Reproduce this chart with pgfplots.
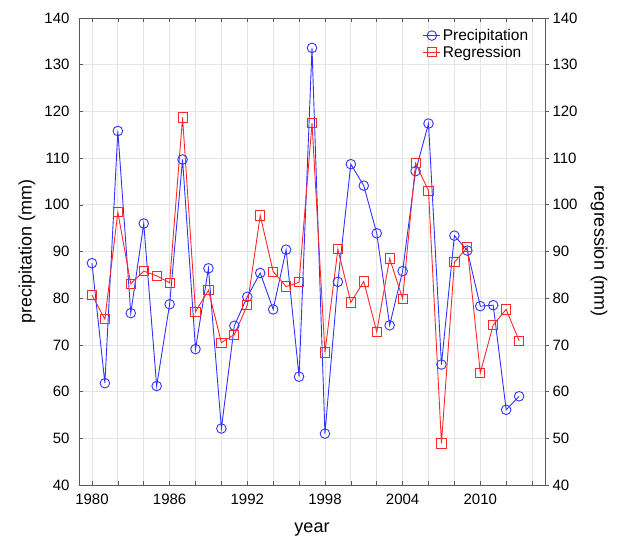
\documentclass[border=0pt]{standalone}
\usepackage{pgfplots}
\pgfplotsset{compat=1.18}
\usepackage{fontspec}
\setmainfont{Liberation Sans}
\pgfplotstableread{
year prec reg
1980 87.5 80.7
1981 61.8 75.5
1982 115.8 98.4
1983 76.8 83.1
1984 96.0 85.8
1985 61.2 84.8
1986 78.7 83.3
1987 109.7 118.7
1988 69.1 77.1
1989 86.4 81.7
1990 52.1 70.5
1991 74.1 72.2
1992 80.3 78.5
1993 85.4 97.7
1994 77.6 85.7
1995 90.4 82.5
1996 63.2 83.4
1997 133.6 117.5
1998 51.0 68.4
1999 83.5 90.5
2000 108.7 79.1
2001 104.1 83.6
2002 93.9 72.8
2003 74.2 88.5
2004 85.8 79.9
2005 107.2 108.9
2006 117.4 103.0
2007 65.8 48.9
2008 93.4 87.7
2009 90.2 90.9
2010 78.3 64.0
2011 78.5 74.3
2012 56.1 77.6
2013 59.0 70.9
}\datatable
\definecolor{pblue}{RGB}{50,50,255}
\definecolor{pred}{RGB}{255,40,40}
\begin{document}
\begin{tikzpicture}
\begin{axis}[
  scale only axis, width=466pt, height=467pt,
  xmin=1979, xmax=2015, ymin=40, ymax=140,
  xtick={1980,1986,...,2010},
  minor xtick={1982,1984,1988,1990,1994,1996,2000,2002,2006,2008,2012,2014},
  ytick={40,50,...,140},
  x tick label style={/pgf/number format/1000 sep={}, yshift=-5pt},
  y tick label style={xshift=-6pt},
  /pgf/number format/assume math mode=true,
  ticklabel style={font=\fontsize{15}{18}\selectfont},
  grid=both,
  major grid style={gray!20, line width=0.8pt},
  minor grid style={gray!20, line width=0.8pt},
  axis line style={gray!70!black, line width=0.8pt},
  tick style={gray!70!black, line width=0.6pt},
  major tick length=4pt, minor tick length=4pt,
  tick align=inside,
  axis y line*=left,
  axis x line*=box,
  xlabel={year}, ylabel={precipitation (mm)},
  label style={font=\fontsize{18}{21}\selectfont},
  ylabel style={at={(rel axis cs:0,0.5)}, anchor=south, yshift=40pt},
  xlabel style={at={(rel axis cs:0.5,0)}, anchor=north, yshift=-34pt},
  legend style={at={(0.975,0.985)}, anchor=north east, draw=none, fill=none,
    font=\fontsize{15.5}{18}\selectfont},
  legend cell align=left,
]
\addplot[pblue, line width=0.9pt, mark=o, mark size=4.8pt, mark options={line width=0.9pt}] table[x=year,y=prec]{\datatable};
\addlegendentry{Precipitation}
\addplot[pred, line width=0.9pt, mark=square, mark size=4.6pt, mark options={line width=0.9pt}] table[x=year,y=reg]{\datatable};
\addlegendentry{Regression}
\coordinate (bl) at (rel axis cs:0,0);
\coordinate (tr) at (rel axis cs:1,1);
\end{axis}
\begin{axis}[
  scale only axis, width=466pt, height=467pt,
  xmin=1979, xmax=2015, ymin=40, ymax=140,
  axis x line=none,
  axis y line*=right,
  ytick={40,50,...,140},
  /pgf/number format/assume math mode=true,
  ticklabel style={font=\fontsize{15}{18}\selectfont},
  axis line style={gray!70!black, line width=0.8pt},
  tick style={gray!70!black, line width=0.6pt},
  major tick length=4pt, tick align=outside,
  ylabel={regression (mm)},
  ylabel style={font=\fontsize{18}{21}\selectfont, at={(rel axis cs:1,0.5)}, anchor=south, rotate=180, yshift=42pt},
]
\addplot[draw=none] coordinates {(1980,40)};
\end{axis}
\pgfresetboundingbox
\path[use as bounding box] ([xshift=-79pt,yshift=-53pt]bl) rectangle ([xshift=76pt,yshift=18pt]tr);
\end{tikzpicture}
\end{document}
